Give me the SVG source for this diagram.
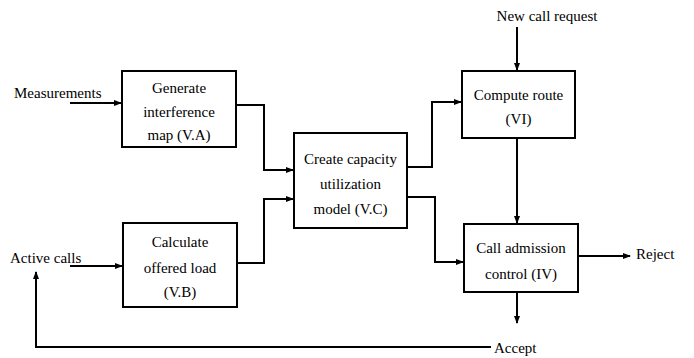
<svg xmlns="http://www.w3.org/2000/svg" width="694" height="358" viewBox="0 0 694 358" font-family="Liberation Serif, Times New Roman, serif">
<style>
.box{fill:#fff;stroke:#000;stroke-width:2}
.t{font-size:15px;fill:#000}
.c{text-anchor:middle}
.ln{fill:none;stroke:#000;stroke-width:2}
</style>
<defs>
<marker id="ah" markerWidth="8" markerHeight="6" refX="7" refY="3" orient="auto" markerUnits="userSpaceOnUse">
<path d="M0,0 L8,3 L0,6 z" fill="#000"/>
</marker>
</defs>
<g id="connectors">
<path class="ln" d="M70,103 H121" marker-end="url(#ah)"/>
<path class="ln" d="M70,266 H122" marker-end="url(#ah)"/>
<path class="ln" d="M236,105 H264 V170 H293" marker-end="url(#ah)"/>
<path class="ln" d="M237,263 H264 V199 H293" marker-end="url(#ah)"/>
<path class="ln" d="M407,167 H432 V102 H461" marker-end="url(#ah)"/>
<path class="ln" d="M407,197 H435 V262 H463" marker-end="url(#ah)"/>
<path class="ln" d="M517,27 V70" marker-end="url(#ah)"/>
<path class="ln" d="M517,138 V223" marker-end="url(#ah)"/>
<path class="ln" d="M578,256 H630" marker-end="url(#ah)"/>
<path class="ln" d="M517,292 V323" marker-end="url(#ah)"/>
<path class="ln" d="M491,347 H36 V272" marker-end="url(#ah)"/>
</g>
<g id="labels">
<text class="t" x="14" y="98">Measurements</text>
<text class="t" x="10" y="263">Active calls</text>
<text class="t c" x="547" y="21">New call request</text>
<text class="t" x="636" y="259">Reject</text>
<text class="t" x="494" y="353">Accept</text>
</g>
<g id="node-va">
<rect class="box" x="122" y="71" width="114" height="76"/>
<text class="t c" x="179" y="93">Generate</text>
<text class="t c" x="179" y="117">interference</text>
<text class="t c" x="179" y="140">map (V.A)</text>
</g>
<g id="node-vb">
<rect class="box" x="123" y="223" width="114" height="84"/>
<text class="t c" x="180" y="247">Calculate</text>
<text class="t c" x="180" y="273">offered load</text>
<text class="t c" x="180" y="297">(V.B)</text>
</g>
<g id="node-vc">
<rect class="box" x="294" y="133" width="113" height="95"/>
<text class="t c" x="350.5" y="164">Create capacity</text>
<text class="t c" x="350.5" y="189">utilization</text>
<text class="t c" x="350.5" y="214">model (V.C)</text>
</g>
<g id="node-vi">
<rect class="box" x="462" y="71" width="113" height="67"/>
<text class="t c" x="518.5" y="100">Compute route</text>
<text class="t c" x="518.5" y="124">(VI)</text>
</g>
<g id="node-iv">
<rect class="box" x="464" y="224" width="114" height="68"/>
<text class="t c" x="521" y="253">Call admission</text>
<text class="t c" x="521" y="279">control (IV)</text>
</g>
</svg>
